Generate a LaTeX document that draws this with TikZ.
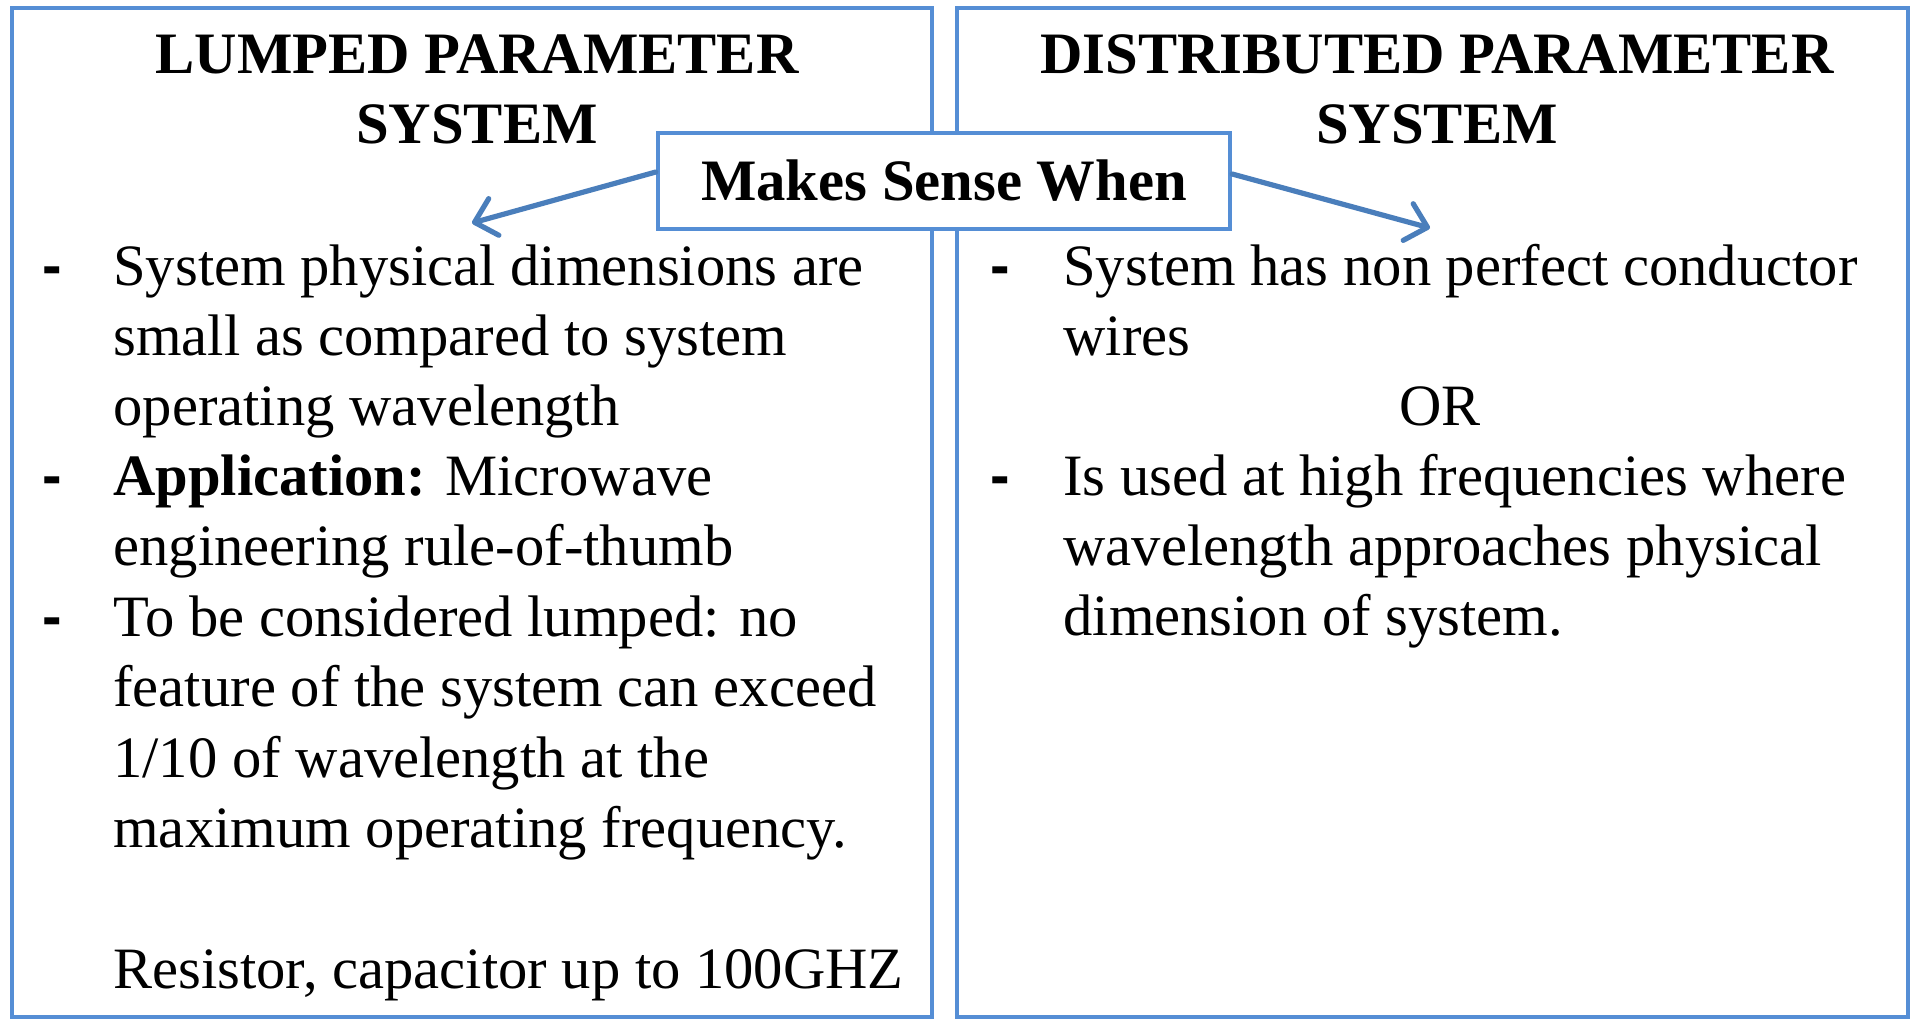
\documentclass[tikz,border=0pt]{standalone}
\usepackage{fontspec}
\setmainfont{Liberation Serif}
\newfontfamily\dashfont{Liberation Sans}
\usetikzlibrary{arrows.meta}
\definecolor{boxblue}{HTML}{558ED5}
\definecolor{arrblue}{HTML}{4A7EBB}
\begin{document}
\begin{tikzpicture}[x=0.5pt,y=-0.5pt,
  txt/.style={font=\fontsize{29.3}{35}\selectfont, inner sep=0, anchor=base west},
  dsh/.style={font=\fontsize{29.3}{35}\dashfont\bfseries, inner sep=0, anchor=base west},
  ttl/.style={font=\fontsize{29.35}{35}\selectfont\bfseries, inner sep=0, anchor=base},
  panel/.style={draw=boxblue, line width=2.2pt},
  arr/.style={draw=arrblue, line width=2.6pt, line cap=round, -{Straight Barb[length=10pt,width=19pt,round]}}]
\useasboundingbox (0,0) rectangle (1911,1018);
\fill[white] (0,0) rectangle (1911,1018);
% panels
\draw[panel] (12,8) rectangle (932,1017);
\draw[panel] (957,8) rectangle (1908,1017);
% titles
\node[ttl] (t1a) at (477,73) {LUMPED PARAMETER};
\node[ttl] (t1b) at (477,143) {SYSTEM};
\node[ttl] (t2a) at (1437,73) {DISTRIBUTED PARAMETER};
\node[ttl] (t2b) at (1437,143) {SYSTEM};
% central box
\node[draw=boxblue, fill=white, line width=2.2pt, minimum width=286pt, minimum height=48pt, inner sep=0,
      font=\fontsize{29.35}{35}\selectfont\bfseries] (msw) at (944,181) {Makes Sense When};
\coordinate (tipL) at (472,223);
\coordinate (tipR) at (1430,228);
\draw[arr] ([yshift=4.5pt]msw.west) -- (tipL);
\draw[arr] ([yshift=3.5pt]msw.east) -- (tipR);
% left column
\node[dsh] (dl1) at (42,285) {-};
\node[txt] (l1) at (113,285) {System physical dimensions are};
\node[txt] (l2) at (113,355) {small as compared to system};
\node[txt] (l3) at (113,425) {operating wavelength};
\node[dsh] (dl2) at (42,495) {-};
\node[txt] (l4) at (113,495) {\textbf{Application:} Microwave};
\node[txt] (l5) at (113,565) {engineering rule-of-thumb};
\node[dsh] (dl3) at (42,636) {-};
\node[txt] (l6) at (113,636) {To be considered lumped: no};
\node[txt] (l7) at (113,706) {feature of the system can exceed};
\node[txt] (l8) at (113,777) {1/10 of wavelength at the};
\node[txt] (l9) at (113,847) {maximum operating frequency.};
\node[txt] (l10) at (113,988) {Resistor, capacitor up to 100GHZ};
% right column
\node[dsh] (dr1) at (990,285) {-};
\node[txt] (r1) at (1063,285) {System has non perfect conductor};
\node[txt] (r2) at (1063,355) {wires};
\node[txt, anchor=base] (r3) at (1440,425) {OR};
\node[dsh] (dr2) at (990,495) {-};
\node[txt] (r4) at (1063,495) {Is used at high frequencies where};
\node[txt] (r5) at (1063,565) {wavelength approaches physical};
\node[txt] (r6) at (1063,635) {dimension of system.};
\end{tikzpicture}
\end{document}
